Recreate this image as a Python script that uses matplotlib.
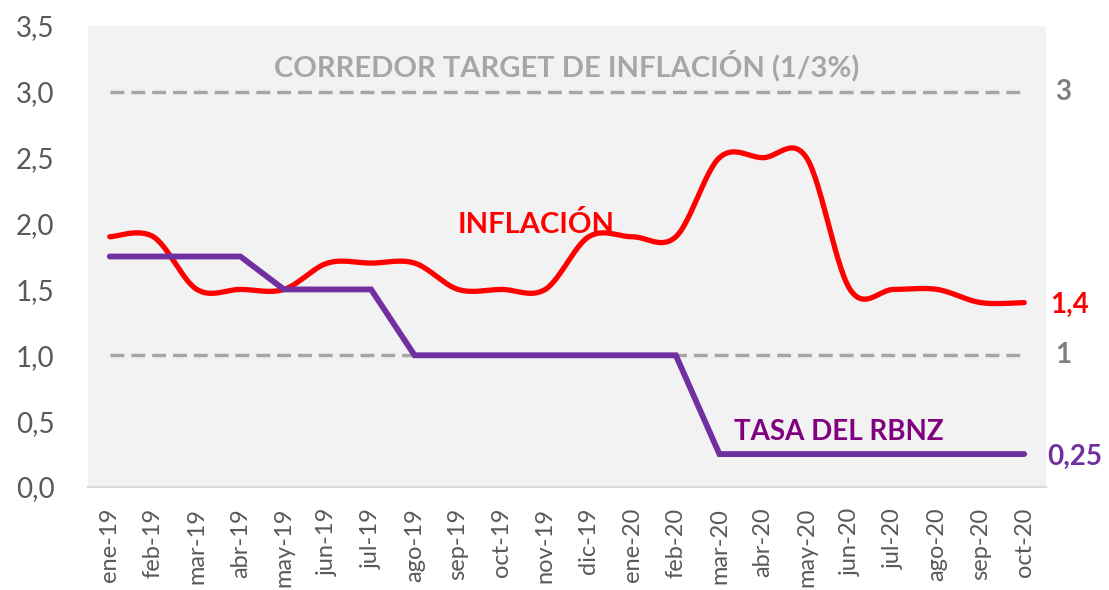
import numpy as np
import matplotlib
matplotlib.use("Agg")
import matplotlib.pyplot as plt

months = ["ene-19", "feb-19", "mar-19", "abr-19", "may-19", "jun-19", "jul-19",
          "ago-19", "sep-19", "oct-19", "nov-19", "dic-19", "ene-20", "feb-20",
          "mar-20", "abr-20", "may-20", "jun-20", "jul-20", "ago-20", "sep-20", "oct-20"]
inflacion = [1.9, 1.9, 1.5, 1.5, 1.5, 1.7, 1.7, 1.7, 1.5, 1.5, 1.5, 1.9, 1.9, 1.9,
             2.5, 2.5, 2.5, 1.5, 1.5, 1.5, 1.4, 1.4]
tasa = [1.75, 1.75, 1.75, 1.75, 1.5, 1.5, 1.5, 1.0, 1.0, 1.0, 1.0, 1.0, 1.0, 1.0,
        0.25, 0.25, 0.25, 0.25, 0.25, 0.25, 0.25, 0.25]
corredor_sup = 3
corredor_inf = 1
yticks = [0.0, 0.5, 1.0, 1.5, 2.0, 2.5, 3.0, 3.5]

FONT = ["Lato", "DejaVu Sans"]
plt.rcParams['font.family'] = FONT


def excel_smooth(x, y, n=30):
    x = np.asarray(x, float)
    y = np.asarray(y, float)
    xs, ys = [], []
    N = len(x)
    for i in range(N - 1):
        p0 = np.array([x[max(i - 1, 0)], y[max(i - 1, 0)]])
        p1 = np.array([x[i], y[i]])
        p2 = np.array([x[i + 1], y[i + 1]])
        p3 = np.array([x[min(i + 2, N - 1)], y[min(i + 2, N - 1)]])
        c1 = p1 + (p2 - p0) / 6.0
        c2 = p2 - (p3 - p1) / 6.0
        t = np.linspace(0, 1, n)[:, None]
        pts = ((1 - t) ** 3) * p1 + 3 * ((1 - t) ** 2) * t * c1 + 3 * (1 - t) * t ** 2 * c2 + t ** 3 * p2
        xs.extend(pts[:, 0])
        ys.extend(pts[:, 1])
    return np.array(xs), np.array(ys)


fig = plt.figure(figsize=(11.09, 5.90), dpi=100)
ax = fig.add_axes([88 / 1109, 1 - 487 / 590, 958 / 1109, 461 / 590])
ax.set_facecolor("#f2f2f2")

x = np.arange(len(months))
ax.set_xlim(-0.5, len(months) - 0.5)
ax.set_ylim(0, 3.5)

ax.plot([x[0], x[-1]], [corredor_sup] * 2, color="#a6a6a6", lw=2.5, ls=(0, (4, 2.0)))
ax.plot([x[0], x[-1]], [corredor_inf] * 2, color="#a6a6a6", lw=2.5, ls=(0, (4, 2.0)))

sx, sy = excel_smooth(x, inflacion)
ax.plot(sx, sy, color="#ff0000", lw=3.8, solid_capstyle="round")
ax.plot(x, tasa, color="#7030a0", lw=4.2, solid_capstyle="round", solid_joinstyle="miter")

for s in ["top", "right", "left"]:
    ax.spines[s].set_visible(False)
ax.spines["bottom"].set_color("#d9d9d9")
ax.spines["bottom"].set_linewidth(1.5)

ax.set_yticks(yticks)
ax.set_yticklabels([f"{v:.1f}".replace(".", ",") for v in yticks], fontsize=20, color="#595959")
ax.set_xticks(x)
ax.set_xticklabels(months, rotation=90, fontsize=17, color="#595959")
ax.tick_params(axis="both", length=0)
ax.tick_params(axis="y", pad=24)
ax.tick_params(axis="x", pad=15)

ax.text(10.5, 3.2, "CORREDOR TARGET DE INFLACIÓN (1/3%)", ha="center", va="center",
        fontsize=21, fontweight="bold", color="#a6a6a6")
ax.text(9.8, 1.99, "INFLACIÓN", ha="center", va="center",
        fontsize=21, fontweight="bold", color="#ff0000")
ax.text(16.75, 0.42, "TASA DEL RBNZ", ha="center", va="center",
        fontsize=20, fontweight="bold", color="#800080")

tr = ax.get_yaxis_transform()
ax.text(1.01, corredor_sup, str(corredor_sup), transform=tr, ha="left", va="center",
        fontsize=20, fontweight="bold", color="#7f7f7f")
ax.text(1.01, corredor_inf, str(corredor_inf), transform=tr, ha="left", va="center",
        fontsize=20, fontweight="bold", color="#7f7f7f")
ax.text(1.004, inflacion[-1] - 0.02, f"{inflacion[-1]:.1f}".replace(".", ","), transform=tr,
        ha="left", va="center", fontsize=20, fontweight="bold", color="#ff0000")
ax.text(1.001, tasa[-1] - 0.02, f"{tasa[-1]:.2f}".replace(".", ","), transform=tr,
        ha="left", va="center", fontsize=20, fontweight="bold", color="#7030a0")

fig.savefig("out.png", dpi=100, facecolor="white")
